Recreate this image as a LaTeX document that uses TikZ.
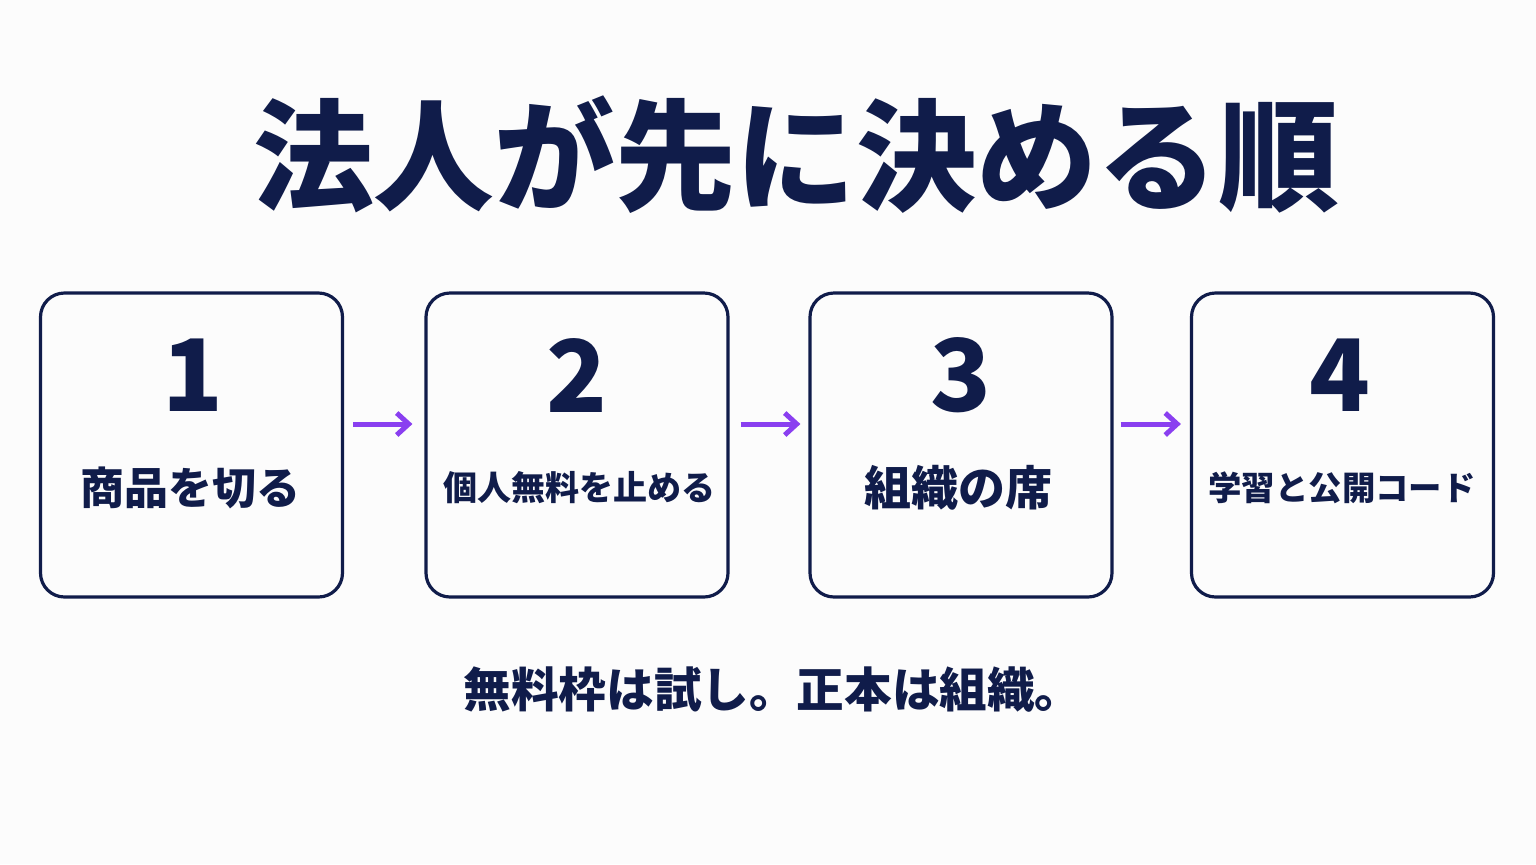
\documentclass[tikz,border=0pt]{standalone}
\usepackage{fontspec}
\setmainfont{Noto Sans CJK JP}
\usetikzlibrary{arrows.meta}
\definecolor{navy}{HTML}{101C4A}
\definecolor{purp}{HTML}{8A3FF0}
\begin{document}
\begin{tikzpicture}[x=0.5pt,y=-0.5pt,
 box/.style={draw=navy,line width=1.6pt,rounded corners=12pt,minimum width=151pt,minimum height=152pt},
 num/.style={text=navy,font=\bfseries\fontsize{50}{50}\selectfont},
 lab/.style={text=navy,font=\bfseries},
 arr/.style={draw=purp,line width=2.5pt,-{Straight Barb[length=6pt,width=11pt]}}]
\fill[white!98!gray] (0,0) rectangle (1536,864);
\useasboundingbox (0,0) rectangle (1536,864);
\node[text=navy,font=\bfseries\fontsize{60.3}{60.3}\selectfont] (title) at (796,155) {法人が先に決める順};
\node[box] (b1) at (191.5,445) {};
\node[box] (b2) at (577,445) {};
\node[box] (b3) at (961,445) {};
\node[box] (b4) at (1342.5,445) {};
\node[num] (n1) at (193,375) {1};
\node[num] (n2) at (577,375) {2};
\node[num] (n3) at (961,375) {3};
\node[num] (n4) at (1340,375) {4};
\node[lab,font=\bfseries\fontsize{22}{22}\selectfont] (l1) at (190,488) {商品を切る};
\node[lab,font=\bfseries\fontsize{17}{17}\selectfont] (l2) at (579,488) {個人無料を止める};
\node[lab,font=\bfseries\fontsize{23.5}{23.5}\selectfont] (l3) at (958,488) {組織の席};
\node[lab,font=\bfseries\fontsize{16.7}{16.7}\selectfont] (l4) at (1342,488) {学習と公開コード};
\draw[arr] ([shift={(9,-21)}]b1.east) -- ([shift={(-12,-21)}]b2.west);
\draw[arr] ([shift={(11,-21)}]b2.east) -- ([shift={(-8,-21)}]b3.west);
\draw[arr] ([shift={(7,-21)}]b3.east) -- ([shift={(-9,-21)}]b4.west);
\node[lab,font=\bfseries\fontsize{23.8}{23.8}\selectfont] (foot) at (773,690) {無料枠は試し。正本は組織。};
\end{tikzpicture}
\end{document}
